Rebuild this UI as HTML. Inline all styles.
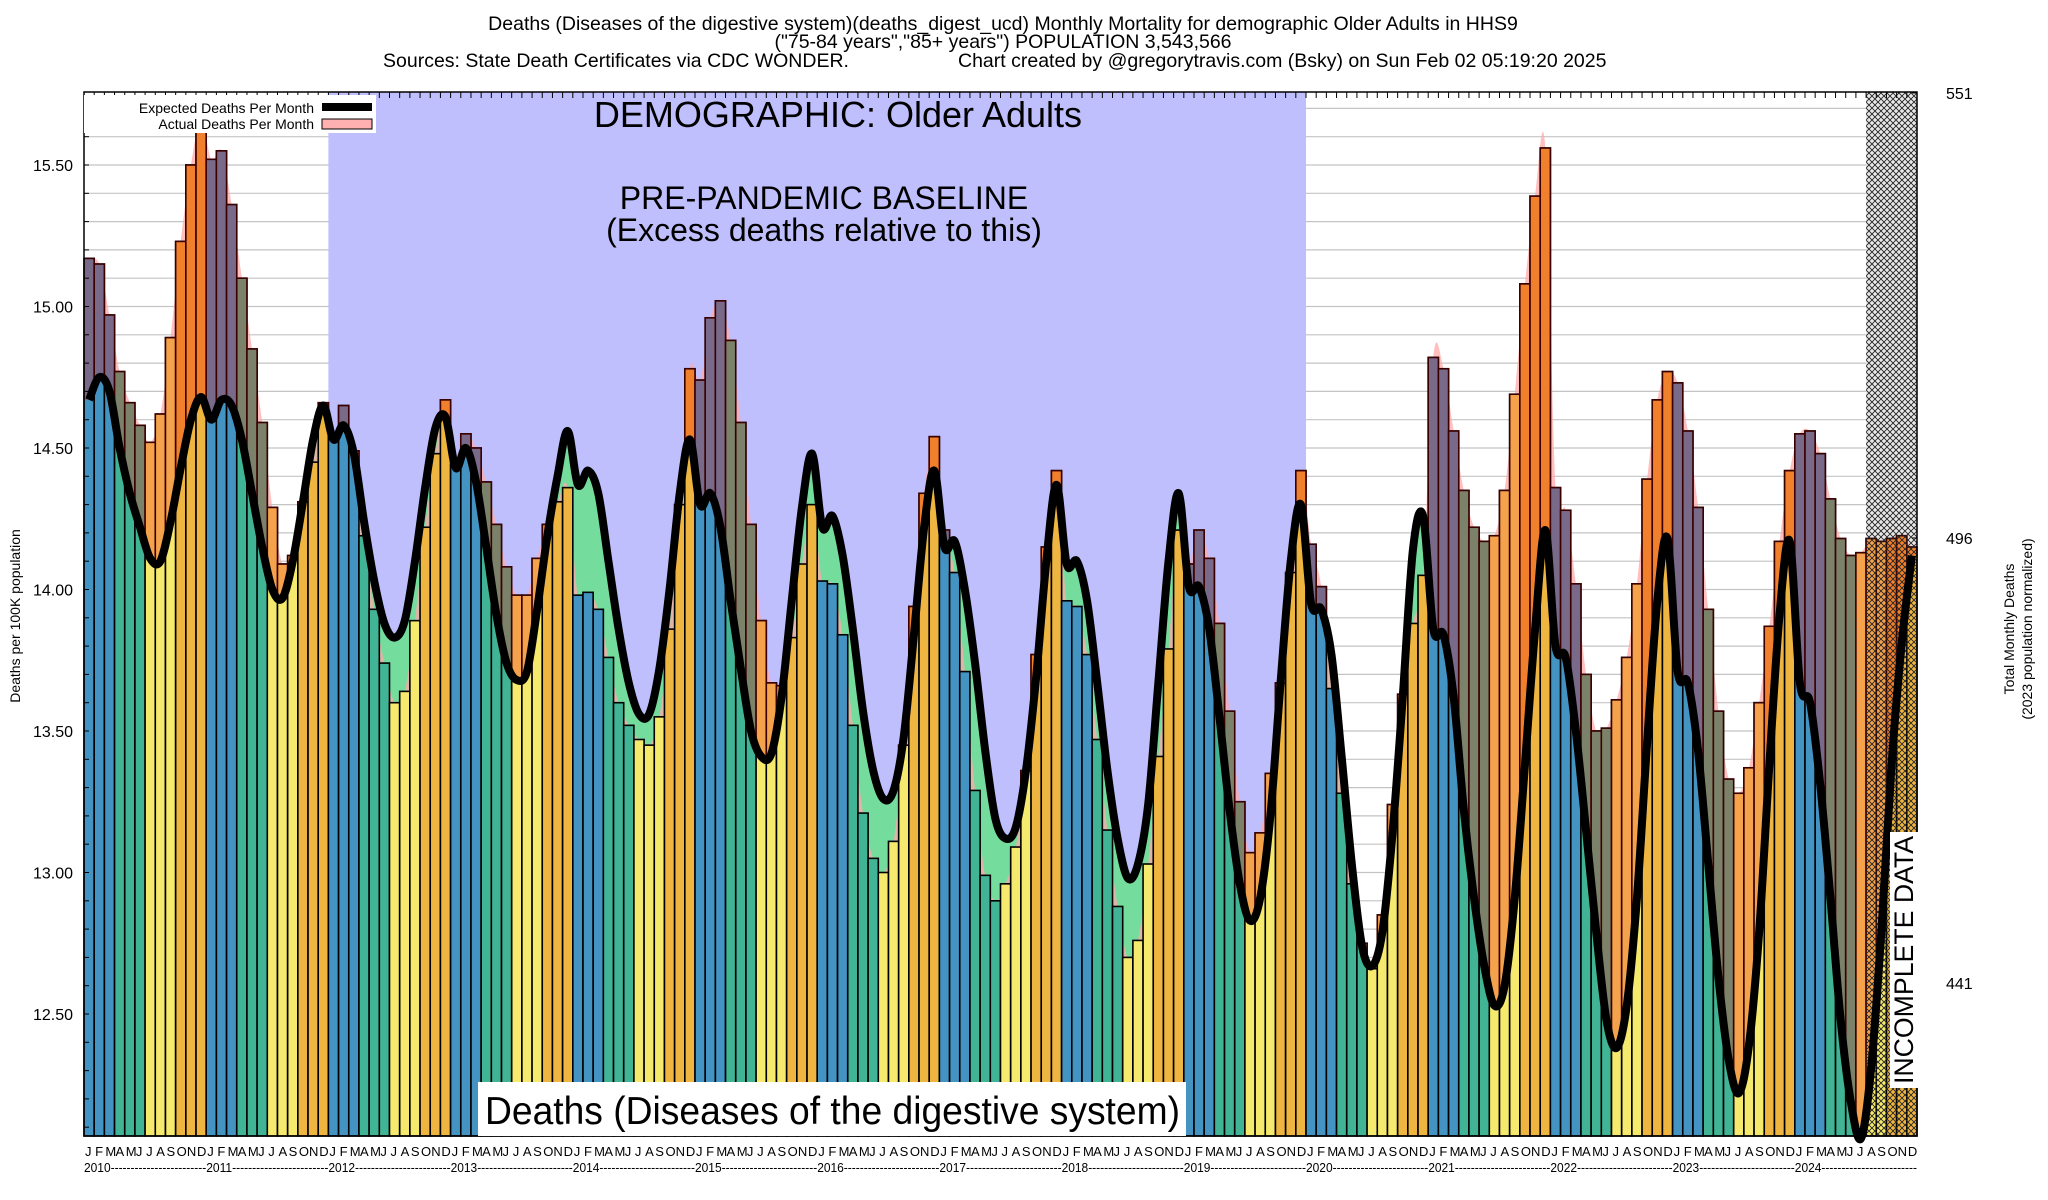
<!DOCTYPE html>
<html><head><meta charset="utf-8">
<style>
html,body{margin:0;padding:0;background:#fff;}
svg{display:block;font-family:"Liberation Sans",Arial,sans-serif;}
</style></head>
<body>
<svg id="chart" width="2048" height="1200" viewBox="0 0 2048 1200" xmlns="http://www.w3.org/2000/svg">
<defs>
<pattern id="hatch" width="6" height="6" patternUnits="userSpaceOnUse">
<path d="M0,0 L6,6 M6,0 L0,6" stroke="#222" stroke-width="0.9"/>
</pattern>
</defs>
<g id="titles" font-size="19.5" fill="#000">
<text x="1003" y="30" text-anchor="middle">Deaths (Diseases of the digestive system)(deaths_digest_ucd) Monthly Mortality for demographic Older Adults in HHS9</text>
<text x="1003" y="48" text-anchor="middle">("75-84 years","85+ years") POPULATION 3,543,566</text>
<text x="383" y="67">Sources: State Death Certificates via CDC WONDER.</text>
<text x="958" y="67">Chart created by @gregorytravis.com (Bsky) on Sun Feb 02 05:19:20 2025</text>
</g>
<g id="layer-grid"></g>
<g id="layer-region"></g>
<g id="layer-areas"></g>
<g id="layer-bars"></g>
<g id="layer-excess"></g>
<g id="layer-hatch"></g>
<g id="layer-expected"></g>
<g id="layer-axes"></g>
<g id="layer-text"></g>
</svg>
<script>
const months = ["J","F","M","A","M","J","J","A","S","O","N","D"];
const years = [2010,2011,2012,2013,2014,2015,2016,2017,2018,2019,2020,2021,2022,2023,2024];
const actual = [
15.17,15.15,14.97,14.77,14.66,14.58,14.52,14.62,14.89,15.23,15.50,15.66,
15.52,15.55,15.36,15.10,14.85,14.59,14.29,14.09,14.12,14.31,14.45,14.66,
14.55,14.65,14.49,14.19,13.93,13.74,13.60,13.64,13.89,14.22,14.48,14.67,
14.44,14.55,14.50,14.38,14.23,14.08,13.98,13.98,14.11,14.23,14.31,14.36,
13.98,13.99,13.93,13.76,13.60,13.52,13.47,13.45,13.55,13.86,14.30,14.78,
14.74,14.96,15.02,14.88,14.59,14.23,13.89,13.67,13.66,13.83,14.09,14.30,
14.03,14.02,13.84,13.52,13.21,13.05,13.00,13.11,13.45,13.94,14.34,14.54,
14.21,14.06,13.71,13.29,12.99,12.90,12.96,13.09,13.36,13.77,14.15,14.42,
13.96,13.94,13.77,13.47,13.15,12.88,12.70,12.76,13.03,13.41,13.79,14.21,
14.09,14.21,14.11,13.88,13.57,13.25,13.07,13.14,13.35,13.67,14.06,14.42,
14.16,14.01,13.65,13.28,12.96,12.75,12.66,12.85,13.24,13.63,13.88,14.05,
14.82,14.78,14.56,14.35,14.22,14.17,14.19,14.35,14.69,15.08,15.39,15.56,
14.36,14.28,14.02,13.70,13.50,13.51,13.61,13.76,14.02,14.39,14.67,14.77,
14.73,14.56,14.29,13.93,13.57,13.33,13.28,13.37,13.60,13.87,14.17,14.42,
14.55,14.56,14.48,14.32,14.18,14.12,14.13,14.18,14.17,14.18,14.19,14.15];
const expected = [
14.67,14.75,14.70,14.50,14.34,14.22,14.11,14.10,14.24,14.43,14.60,14.68,
14.60,14.67,14.65,14.53,14.34,14.15,14.00,13.97,14.10,14.31,14.53,14.65,
14.53,14.58,14.48,14.24,14.03,13.88,13.83,13.89,14.10,14.36,14.57,14.61,
14.43,14.50,14.38,14.15,13.91,13.74,13.68,13.71,13.93,14.19,14.40,14.56,
14.37,14.42,14.34,14.10,13.86,13.67,13.56,13.56,13.72,14.00,14.34,14.53,
14.30,14.34,14.22,13.96,13.72,13.50,13.41,13.42,13.62,13.96,14.29,14.48,
14.22,14.26,14.12,13.86,13.57,13.36,13.26,13.29,13.48,13.84,14.22,14.42,
14.15,14.17,14.00,13.74,13.43,13.19,13.12,13.16,13.36,13.69,14.10,14.37,
14.09,14.10,13.96,13.67,13.36,13.12,12.98,13.03,13.24,13.67,14.10,14.34,
14.01,14.01,13.86,13.55,13.22,12.96,12.83,12.91,13.20,13.67,14.10,14.30,
13.95,13.93,13.77,13.41,13.03,12.74,12.67,12.79,13.14,13.62,14.14,14.26,
13.86,13.84,13.62,13.22,12.91,12.67,12.53,12.60,12.91,13.38,13.86,14.21,
13.80,13.76,13.50,13.15,12.79,12.48,12.38,12.53,12.91,13.46,13.96,14.18,
13.71,13.67,13.43,13.03,12.63,12.34,12.22,12.39,12.79,13.38,13.91,14.17,
13.67,13.60,13.31,12.91,12.48,12.19,12.06,12.31,12.79,13.38,13.81,14.12];
const yTicks = [15.5,15.0,14.5,14.0,13.5,13.0,12.5];
const yTickLabels = ["15.50","15.00","14.50","14.00","13.50","13.00","12.50"];
const rightTicks = [551,496,441];
const baselineStart = 24, baselineEnd = 120, incompleteStart = 175;

const NS="http://www.w3.org/2000/svg";
const L=84,R=1917,T=92,B=1136,N=actual.length,BW=(R-L)/N;
function xL(i){return L+i*BW;}
function xC(i){return L+(i+0.5)*BW;}
function y(v){return 165+(15.5-v)*283;}
function yRight(d){return 93+(551-d)*8.09;}
function mk(tag,attrs,parent){const e=document.createElementNS(NS,tag);for(const k in attrs)e.setAttribute(k,attrs[k]);parent.appendChild(e);return e;}
function smooth(vals){
  const p=vals.map((v,i)=>[xC(i),y(v)]);
  let d=`M${p[0][0]},${p[0][1]}`;
  for(let i=0;i<p.length-1;i++){
    const p0=p[i-1]||p[i],p1=p[i],p2=p[i+1],p3=p[i+2]||p2;
    const c1=[p1[0]+(p2[0]-p0[0])/6,p1[1]+(p2[1]-p0[1])/6];
    const c2=[p2[0]-(p3[0]-p1[0])/6,p2[1]-(p3[1]-p1[1])/6];
    d+=` C${c1[0]},${c1[1]} ${c2[0]},${c2[1]} ${p2[0]},${p2[1]}`;
  }
  return d;
}
const gGrid=document.getElementById('layer-grid');
const gRegion=document.getElementById('layer-region');
const gAreas=document.getElementById('layer-areas');
const gBars=document.getElementById('layer-bars');
const gEx=document.getElementById('layer-excess');
const gHatch=document.getElementById('layer-hatch');
const gExp=document.getElementById('layer-expected');
const gAx=document.getElementById('layer-axes');

for(let k=121;k<=157;k++){
  const v=k/10, yy=y(v);
  if(yy<T||yy>B) continue;
  const g=mk('line',{x1:L,x2:R,y1:yy,y2:yy,stroke:'#c4c4c4','stroke-width':1.2},gGrid);
  
  
}
const reg=mk('rect',{x:xL(baselineStart),y:T,width:xL(baselineEnd)-xL(baselineStart),height:B-T,fill:'#bfbffd'},gRegion);



const eD=smooth(expected), aD=smooth(actual);
const gr=mk('path',{d:eD+` L${xC(N-1)},${B} L${xC(0)},${B} Z`,fill:'#74dc9c'},gAreas);


const pk=mk('path',{d:aD+` L${xC(N-1)},${B} L${xC(0)},${B} Z`,fill:'#ffaaaa','fill-opacity':0.75},gAreas);



const defs=document.querySelector('defs');
const cp=mk('clipPath',{id:'aboveExp'},defs);
mk('path',{d:eD+` L${R},${y(expected[N-1])} L${R},${T} L${L},${T} L${L},${y(expected[0])} Z`},cp);

const base=['#4393c3','#4393c3','#4393c3','#41b496','#41b496','#41b496','#f5e96e','#f5e96e','#f5e96e','#eeb640','#eeb640','#eeb640'];
const exc=['#7a6a8a','#7a6a8a','#7a6a8a','#7b8269','#7b8269','#7b8269','#f4a24c','#f4a24c','#f4a24c','#f0802c','#f0802c','#f0802c'];
const gExC=mk('g',{'clip-path':'url(#aboveExp)'},gEx);
for(let i=0;i<N;i++){
  const m=i%12, top=y(actual[i]);
  const b=mk('rect',{x:xL(i),y:top,width:BW,height:B-top,fill:base[m],stroke:'#000','stroke-width':1.6},gBars);
  
  
  const e=mk('rect',{x:xL(i),y:top,width:BW,height:B-top,fill:exc[m],stroke:'#3a0000','stroke-width':1.6},gExC);
  
  
}
const hb=mk('rect',{x:xL(incompleteStart),y:T,width:R-xL(incompleteStart),height:B-T,fill:'#e8e8e8'},gRegion);


const hr=mk('rect',{x:xL(incompleteStart),y:T,width:R-xL(incompleteStart),height:B-T,fill:'url(#hatch)'},gHatch);



const ec=mk('path',{d:eD,fill:'none',stroke:'#000','stroke-width':8,'stroke-linejoin':'round'},gExp);



const fr=mk('rect',{x:L,y:T,width:R-L,height:B-T,fill:'none',stroke:'#000','stroke-width':1.5},gAx);


for(let i=0;i<=N;i++){
  const t=mk('line',{x1:xL(i),x2:xL(i),y1:T,y2:T+6,stroke:'#000','stroke-width':1},gAx);
  
  
}
for(let k=121;k<=157;k++){
  const yy=y(k/10); if(yy<T||yy>B) continue;
  const t=mk('line',{x1:L,x2:L+5,y1:yy,y2:yy,stroke:'#000','stroke-width':1},gAx);
  
  
}
yTicks.forEach((v,j)=>{
  const t=mk('text',{x:73,y:y(v)+6,'text-anchor':'end','font-size':16},gAx);
  t.textContent=yTickLabels[j];
  
  
});
rightTicks.forEach(d=>{
  const t=mk('text',{x:1946,y:yRight(d)+6,'font-size':16},gAx);
  t.textContent=String(d);
  
  
  const tk=mk('line',{x1:R-5,x2:R,y1:yRight(d),y2:yRight(d),stroke:'#000'},gAx);
  
  
});
for(let i=0;i<N;i++){
  const t=mk('text',{x:xL(i)+1,y:1156,'font-size':13},gAx);
  t.textContent=months[i%12];
  
  
}
years.forEach((yr,j)=>{
  const t=mk('text',{x:xL(j*12),y:1172,'font-size':13,textLength:12*BW,lengthAdjust:'spacingAndGlyphs'},gAx);
  t.textContent=yr+'------------------------';
  
  
});
</script>
<script>
const s=document.getElementById('layer-text');
s.innerHTML=`
<g>
<rect x="84" y="95" width="292" height="38" fill="#fff"/>
<text x="314" y="113" text-anchor="end" font-size="14">Expected Deaths Per Month</text>
<text x="314" y="129" text-anchor="end" font-size="14">Actual Deaths Per Month</text>
<rect x="322" y="103" width="50" height="8" fill="#000"/>
<rect x="322" y="119" width="50" height="10" fill="#ffb0b0" stroke="#000" stroke-width="1"/>
</g>
<text x="838" y="127" text-anchor="middle" font-size="36">DEMOGRAPHIC: Older Adults</text>
<text x="824" y="209" text-anchor="middle" font-size="32">PRE-PANDEMIC BASELINE</text>
<text x="824" y="241" text-anchor="middle" font-size="32">(Excess deaths relative to this)</text>
<rect x="478" y="1082" width="708" height="54" fill="#fff"/>
<text x="485" y="1124" font-size="39" textLength="695" lengthAdjust="spacingAndGlyphs">Deaths (Diseases of the digestive system)</text>
<rect x="1890" y="832" width="29" height="256" fill="#fff"/>
<text transform="translate(1913,1084) rotate(-90)" font-size="27" textLength="248" lengthAdjust="spacingAndGlyphs">INCOMPLETE DATA</text>
<text transform="translate(20,616) rotate(-90)" text-anchor="middle" font-size="14">Deaths per 100K population</text>
<text transform="translate(2014,629) rotate(-90)" text-anchor="middle" font-size="14">Total Monthly Deaths</text>
<text transform="translate(2032,629) rotate(-90)" text-anchor="middle" font-size="14">(2023 population normalized)</text>`;
</script>
</body></html>
